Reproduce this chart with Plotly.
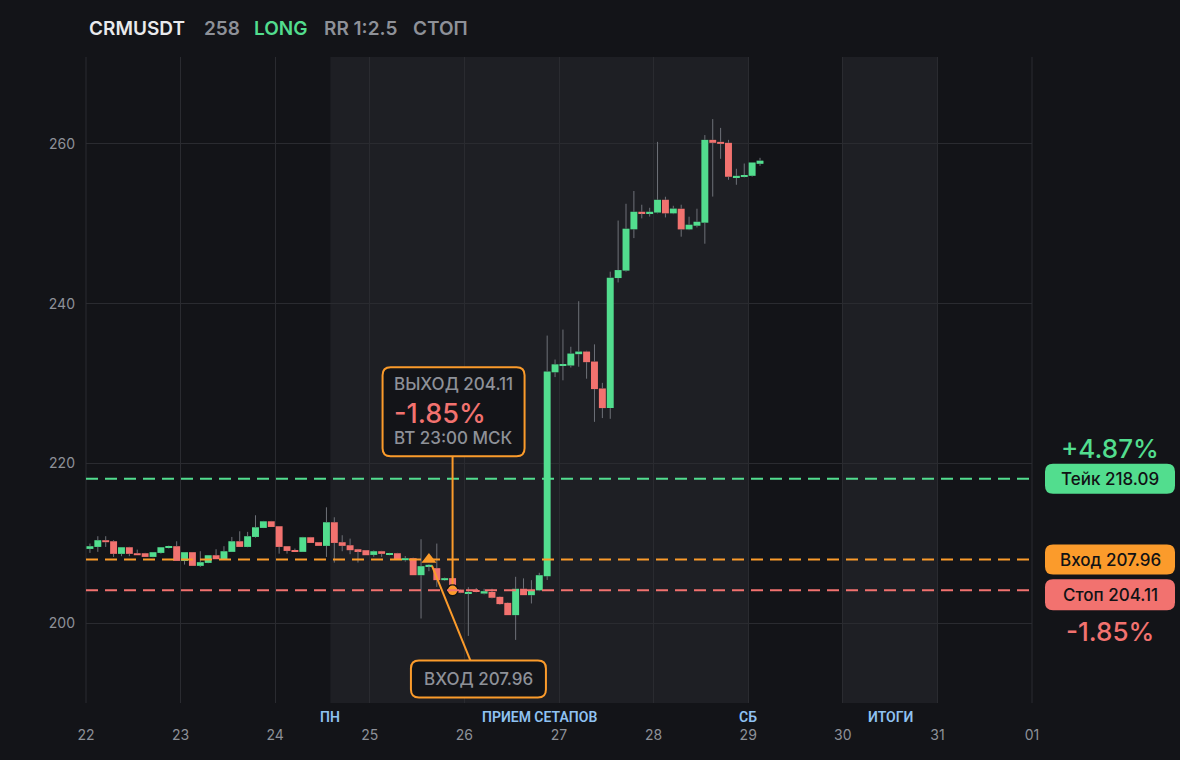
import pandas as pd
import plotly.graph_objects as go

# --- data (2h candles) ---
symbol = "CRMUSDT"
header_words = ["258", "LONG", "RR 1:2.5", "СТОП"]

opens = [209.29, 209.54, 210.38, 210.25, 208.67, 209.50, 208.75, 208.75, 208.29, 208.79,
         209.42, 209.63, 207.79, 208.88, 207.17, 207.54, 208.50, 208.00, 208.92, 210.25,
         209.54, 210.79, 211.92, 212.75, 212.13, 209.63, 209.13, 208.92, 210.75, 210.13,
         209.67, 212.63, 210.13, 209.75, 209.25, 209.13, 208.54, 209.00, 208.54, 208.75,
         207.88, 208.13, 206.00, 207.13, 206.88, 205.38, 205.63, 204.20, 203.75, 204.05,
         203.70, 203.90, 203.29, 202.54, 201.00, 204.30, 203.50, 204.10, 205.88, 231.40,
         232.20, 232.25, 233.67, 234.00, 232.75, 229.38, 226.92, 243.20, 244.13, 249.30,
         251.50, 251.30, 251.40, 253.00, 251.30, 251.88, 249.29, 249.75, 250.13, 260.50,
         260.25, 260.13, 255.75, 255.90, 256.00, 257.50]
highs = [209.96, 210.88, 210.88, 210.38, 209.50, 209.55, 209.20, 208.80, 208.90, 209.50,
         209.70, 210.25, 208.90, 208.90, 209.00, 208.50, 209.25, 209.63, 210.79, 211.50,
         211.42, 213.50, 212.80, 212.80, 212.15, 209.65, 209.33, 210.80, 210.80, 210.15,
         214.50, 213.25, 211.00, 210.58, 209.30, 209.15, 209.10, 209.05, 208.80, 208.80,
         208.40, 208.20, 210.50, 207.40, 209.96, 205.70, 205.70, 204.25, 204.50, 204.40,
         204.30, 204.30, 203.35, 202.60, 205.80, 205.60, 205.38, 206.30, 236.00, 233.00,
         236.75, 234.60, 240.30, 234.10, 234.90, 230.08, 244.00, 250.40, 252.50, 254.10,
         252.38, 252.00, 260.25, 253.38, 252.25, 252.38, 250.88, 251.88, 261.10, 263.10,
         262.00, 260.50, 256.88, 257.54, 257.67, 258.25]
lows = [208.79, 208.92, 209.54, 208.29, 208.38, 208.38, 208.50, 208.29, 208.25, 208.70,
        209.35, 207.79, 207.33, 207.17, 207.04, 207.50, 208.00, 207.95, 208.90, 209.54,
        209.50, 210.70, 211.90, 212.04, 208.70, 208.70, 208.92, 208.90, 210.04, 209.67,
        208.29, 207.58, 209.00, 208.63, 207.58, 208.50, 208.30, 208.30, 208.50, 208.00,
        207.70, 206.00, 200.58, 206.50, 204.54, 205.30, 204.20, 203.75, 198.40, 203.85,
        203.60, 203.10, 202.30, 201.00, 197.90, 203.50, 202.46, 204.00, 205.40, 230.80,
        230.40, 232.00, 232.10, 230.60, 225.20, 225.67, 225.58, 242.65, 244.00, 248.20,
        250.67, 250.90, 251.30, 250.79, 251.20, 248.38, 249.20, 249.54, 247.50, 253.40,
        258.13, 255.50, 254.88, 255.80, 255.90, 257.25]
closes = [209.63, 210.38, 210.13, 208.67, 209.50, 208.67, 208.50, 208.29, 208.88, 209.50,
          209.63, 207.79, 208.88, 207.17, 207.63, 208.50, 208.00, 209.00, 210.25, 209.54,
          210.88, 212.00, 212.75, 212.04, 209.54, 209.04, 208.92, 210.75, 210.04, 209.67,
          212.63, 210.04, 209.67, 209.13, 209.00, 208.50, 209.00, 208.67, 208.75, 208.00,
          208.13, 206.00, 207.13, 207.30, 205.38, 205.63, 204.75, 203.80, 203.90, 203.90,
          204.00, 203.17, 202.38, 201.00, 204.30, 203.50, 204.10, 206.00, 231.50, 232.40,
          232.40, 233.75, 234.00, 232.67, 229.30, 226.92, 243.25, 244.20, 249.38, 251.50,
          251.30, 251.50, 253.00, 251.30, 251.90, 249.29, 249.88, 250.25, 260.50, 260.13,
          260.00, 255.88, 256.00, 256.10, 257.67, 257.90]
first_candle = "2025-03-22 00:00"

take_price = 218.09
entry_price = 207.96
stop_price = 204.11
entry_idx = 43
exit_idx = 46
exit_time_label = "ВТ 23:00 МСК"

bands = [("2025-03-24 14:00", "2025-03-29 00:00"), ("2025-03-30 00:00", "2025-03-31 00:00")]
band_marks = [("2025-03-24 14:00", "ПН"), ("2025-03-26 19:00", "ПРИЕМ СЕТАПОВ"),
              ("2025-03-29 00:00", "СБ"), ("2025-03-30 12:00", "ИТОГИ")]

# --- style ---
BG = "#131418"
BAND = "#1e1f24"
GRID = "#2a2b30"
GREEN = "#52dd8e"
RED = "#f2726f"
ORANGE = "#fb9b2b"
GRAY = "#8e9198"
WICK = "#6e7178"
FONT = "Inter"

times = pd.date_range(first_candle, periods=len(opens), freq="2h") + pd.Timedelta(hours=1)
body_lo = [min(o, c) for o, c in zip(opens, closes)]
body_hi = [max(o, c) for o, c in zip(opens, closes)]
colors = [GREEN if c >= o else RED for o, c in zip(opens, closes)]

wx, wy = [], []
for t, h, l, lo, hi in zip(times, highs, lows, body_lo, body_hi):
    wx += [t, t, None, t, t, None]
    wy += [h, hi, None, lo, l, None]

fig = go.Figure()
fig.add_trace(go.Scatter(x=wx, y=wy, mode="lines", line=dict(color=WICK, width=1),
                         hoverinfo="skip"))
fig.add_trace(go.Bar(x=times, y=[h - l for h, l in zip(body_hi, body_lo)], base=body_lo,
                     width=2 * 3600 * 1000 * 0.88, marker=dict(color=colors, line_width=0),
                     hoverinfo="skip"))
fig.add_trace(go.Scatter(x=[times[entry_idx]], y=[entry_price], mode="markers",
                         marker=dict(symbol="triangle-up", size=13, color=ORANGE)))
fig.add_trace(go.Scatter(x=[times[exit_idx]], y=[stop_price], mode="markers",
                         marker=dict(symbol="circle", size=11, color=ORANGE,
                                     line=dict(color=BG, width=1.5))))


def rounded(x0, y0, x1, y1, r):
    return (f"M{x0 + r},{y0} L{x1 - r},{y0} Q{x1},{y0} {x1},{y0 + r} L{x1},{y1 - r} "
            f"Q{x1},{y1} {x1 - r},{y1} L{x0 + r},{y1} Q{x0},{y1} {x0},{y1 - r} "
            f"L{x0},{y0 + r} Q{x0},{y0} {x0 + r},{y0} Z")


shapes = []
for a, b in bands:
    shapes.append(dict(type="rect", xref="x", yref="paper", x0=a, x1=b, y0=0, y1=1,
                       fillcolor=BAND, line_width=0, layer="below"))
# grid lines on the two edges of the plot
for xe in (0, 1):
    shapes.append(dict(type="line", xref="paper", yref="paper", x0=xe, x1=xe, y0=0, y1=1,
                       line=dict(color=GRID, width=1), layer="below"))
for lvl, col in [(take_price, GREEN), (entry_price, ORANGE), (stop_price, RED)]:
    shapes.append(dict(type="line", xref="paper", yref="y", x0=0, x1=1, y0=lvl, y1=lvl,
                       line=dict(color=col, width=2, dash="12px,7px"), layer="above"))

# leader lines
shapes.append(dict(type="line", xref="x", yref="y", xsizemode="pixel", ysizemode="pixel",
                   xanchor=times[exit_idx], yanchor=stop_price, x0=0, x1=0, y0=6, y1=134,
                   line=dict(color=ORANGE, width=2)))
shapes.append(dict(type="line", xref="x", yref="y", xsizemode="pixel", ysizemode="pixel",
                   xanchor=times[entry_idx], yanchor=entry_price, x0=3, x1=41.5, y0=-6, y1=-101,
                   line=dict(color=ORANGE, width=2)))
# note boxes
shapes.append(dict(type="path", xref="x", yref="y", xsizemode="pixel", ysizemode="pixel",
                   xanchor=times[exit_idx], yanchor=stop_price,
                   path=rounded(-70, 134, 72, 223, 8), fillcolor=BG,
                   line=dict(color=ORANGE, width=2)))
shapes.append(dict(type="path", xref="x", yref="y", xsizemode="pixel", ysizemode="pixel",
                   xanchor=times[entry_idx], yanchor=entry_price,
                   path=rounded(-18, -138, 117, -101, 8), fillcolor=BG,
                   line=dict(color=ORANGE, width=2)))
# right side price tags
for lvl, col, lo, hi in [(take_price, GREEN, -15, 15), (entry_price, ORANGE, -15, 15),
                         (stop_price, RED, -20, 11)]:
    shapes.append(dict(type="path", xref="paper", yref="y", xsizemode="pixel",
                       ysizemode="pixel", xanchor=1, yanchor=lvl,
                       path=rounded(13, lo, 143, hi, 8), fillcolor=col, line_width=0))

take_pct = (take_price - entry_price) / entry_price * 100
stop_pct = (stop_price - entry_price) / entry_price * 100

ann = []
# header
hx = [1, 116, 166, 236, 325]
hcol = ["#e9eaec", GRAY, GREEN, GRAY, GRAY]
for x, word, col in zip(hx, [symbol] + header_words, hcol):
    ann.append(dict(xref="paper", yref="paper", x=0, y=1, xanchor="left", yanchor="middle",
                    xshift=x, yshift=29, text=word, showarrow=False,
                    font=dict(family=FONT, size=19, color=col, weight=600)))
# exit note
for txt, size, col, ys in [(f"ВЫХОД {stop_price:.2f}", 17, GRAY, 206),
                           (f"{stop_pct:.2f}%", 27, RED, 177),
                           (exit_time_label, 17, GRAY, 152)]:
    ann.append(dict(x=times[exit_idx], y=stop_price, xanchor="left", yanchor="middle",
                    xshift=-61, yshift=ys, text=txt, showarrow=False,
                    font=dict(family=FONT, size=size, color=col, weight=500)))
ann.append(dict(x=times[entry_idx], y=entry_price, xanchor="center", yanchor="middle",
                xshift=49.5, yshift=-119, text=f"ВХОД {entry_price:.2f}", showarrow=False,
                font=dict(family=FONT, size=17, color=GRAY, weight=500)))
# right tags
for txt, lvl, ys, size, col in [
    (f"+{take_pct:.2f}%", take_price, 30, 26, GREEN),
    (f"Тейк {take_price:.2f}", take_price, 0, 17, "#111215"),
    (f"Вход {entry_price:.2f}", entry_price, 0, 17, "#111215"),
    (f"Стоп {stop_price:.2f}", stop_price, -4.5, 17, "#111215"),
    (f"{stop_pct:.2f}%", stop_price, -41, 26, RED),
]:
    ann.append(dict(xref="paper", yref="y", x=1, y=lvl, xanchor="center", yanchor="middle",
                    xshift=78, yshift=ys, text=txt, showarrow=False,
                    font=dict(family=FONT, size=size, color=col, weight=500)))
# band labels
for x, txt in band_marks:
    ann.append(dict(xref="x", yref="paper", x=x, y=0, xanchor="center", yanchor="middle",
                    yshift=-14, text=txt, showarrow=False,
                    font=dict(family="Roboto", size=14, color="#8fc2f2", weight=600)))

fig.update_layout(
    width=1180, height=760,
    margin=dict(l=86, r=148, t=57, b=57),
    paper_bgcolor=BG, plot_bgcolor=BG,
    showlegend=False, hovermode=False,
    shapes=shapes, annotations=ann,
    font=dict(family=FONT, color=GRAY),
)
fig.update_xaxes(type="date", range=["2025-03-22", "2025-04-01"], dtick=86400000,
                 tick0="2025-03-22", tickformat="%d", showgrid=True, gridcolor=GRID,
                 gridwidth=1, zeroline=False, showline=False, ticklabelstandoff=22,
                 tickfont=dict(family=FONT, size=14, color=GRAY))
fig.update_yaxes(range=[190, 270.875], tickvals=[200, 220, 240, 260], showgrid=True,
                 gridcolor=GRID, gridwidth=1, zeroline=False, showline=False,
                 ticklabelstandoff=10, tickfont=dict(family=FONT, size=14, color=GRAY))

# page body has a default margin; drop it so the figure fills the window
fig.write_html("out.html", config={"displayModeBar": False},
               post_script="document.body.style.margin='0';"
               "document.body.style.background='" + BG + "';")
